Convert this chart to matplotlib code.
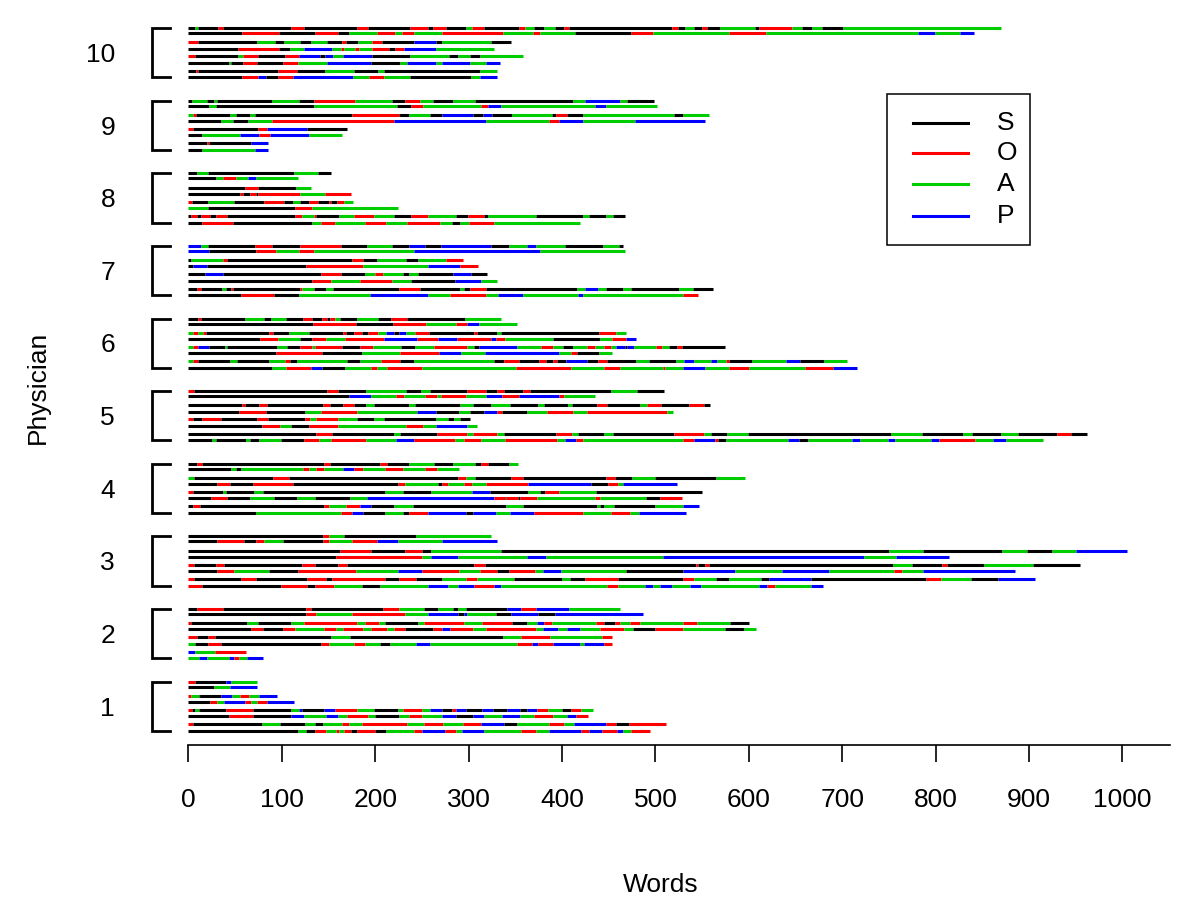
import matplotlib
matplotlib.use("Agg")
import matplotlib.pyplot as plt
from matplotlib.lines import Line2D
from matplotlib.patches import Rectangle

plt.rcParams['font.family'] = ['Liberation Sans', 'DejaVu Sans']

# each note: section letter + word count where that section run ends
physician_1 = [
    "O7 S40 P46 A73",
    "S27 A45 P73",
    "O3 A11 S35 P47 A55 O65 A76 P95",
    "S23 O31 A38 P61 O67 A73 O84 P113",
    "O4 S7 A11 S40 O69 S110 A118 P122 S145 P157 O181 A199 S224 A230 O250 A259 P272 S282 O287 P297 S314 P326 S341 P355 S362 P373 O385 A400 S410 O420 A433",
    "S43 O69 S110 P124 A147 P160 A170 O192 A200 S225 A236 O250 A272 P286 S305 P316 A336 P355 A370 O390 A405 P415 O428",
    "O5 S79 A98 S125 A135 S144 A164 O172 A186 O234 A252 O273 A294 O313 P338 S352 A386 O402 A413 P447 O458 S472 O511",
    "S117 A126 S135 O147 A158 O161 A167 O174 S181 O200 S212 A241 O250 P275 O287 A293 P316 A356 O372 A386 P420 O429 P443 O459 P465 A474 O494",
]
physician_2 = [
    "S9 O37 S126 O131 S208 O226 A252 S267 A283 S289 A297 S341 P356 O372 P408 A462",
    "S126 O137 A175 O232 A257 P289 S295 P298 A329 S345 P374 S392 P487",
    "O3 S63 A74 S110 A124 O181 A189 O204 A210 S246 A252 O295 A314 O346 S362 A373 P381 O389 A436 O445 S457 O462 A473 O483 A530 O545 A580 S600",
    "S67 O80 S101 O114 A145 O158 A165 O187 A195 O213 A220 O232 S262 O272 P280 O305 A319 O372 A380 P396 A405 P419 A441 O466 A476 S500 O530 A575 S595 A608",
    "O9 S21 O28 S153 A173 S337 A356 O387 A443 O454",
    "A7 S21 O35 S142 O151 A177 O189 A205 S216 A244 P259 A352 O368 P374 O390 P419 A424 P445 O454",
    "P7 A28 O62",
    "A11 P20 A43 P49 O54 A63 P80",
]
physician_3 = [
    "S144 O150 A167 S244 A324",
    "S31 O59 S72 O81 A101 S144 O150 A175 O202 P224 A272 P330",
    "S162 O196 S232 O250 S260 A335 S750 A786 S871 A898 S925 A950 P1005",
    "S158 O250 A260 P289 A363 P383 A508 P723 A758 P814",
    "O6 S30 O38 S122 O135 S160 O170 S306 O318 S543 O546 S553 O557 S754 A775 S807 O812 S852 A904 S955",
    "S31 O49 A86 S117 O179 A224 P250 O290 A312 O330 S343 O371 A380 P399 A468 S530 P585 A636 P686 A756 O764 A786 P885",
    "O6 S56 O72 S127 O147 S154 O210 S226 O244 S272 A297 O309 A349 S400 A409 S425 O460 S530 O541 A565 S579 A613 S622 P667 S790 O806 A838 S867 P906",
    "O15 S99 O127 S136 O156 A186 S205 A257 P278 A289 P306 O327 P335 A448 O460 A489 P497 A505 P518 A537 P549 A611 P619 O628 A667 P679",
]
physician_4 = [
    "S9 O15 S145 O152 S205 O213 S236 A263 S283 A307 S313 O321 S343 A353",
    "S46 A51 S56 A123 O129 A137 O145 A165 P177 O187 A210 O230 A253 O266 A290",
    "A6 S91 O108 S289 O297 A307 S345 O358 S447 O457 S475 A500 S565 A596",
    "S31 O45 S69 O112 S224 O232 A267 S272 O278 A295 O304 A319 O364 P431 S449 O460 A465 P523",
    "O5 S37 A40 S70 A80 S210 A230 S260 A304 P323 S364 A376 S382 O397 A436 S550",
    "S24 O41 S66 A92 S116 A135 S173 A191 P327 O339 S340 O353 S355 O373 A435 O441 A490 S505 O528",
    "S5 O12 S145 O151 A169 O184 P196 S220 A240 S340 A358 S437 A441 S445 A456 S500 A530 P547",
    "S72 A163 O175 P187 S210 A230 S236 O256 P297 S305 P329 A344 P370 O423 A452 O473 A482 P533",
]
physician_5 = [
    "O6 S148 O160 S190 A233 S249 A259 S298 O319 S330 O338 S358 O366 S452 A480 S509",
    "S172 P195 A222 O231 A253 O266 A270 O297 A319 P336 O354 P397 O402 A435",
    "S57 O61 S76 O84 S144 O152 S166 O177 S190 A199 S236 A243 S291 A305 S324 A344 S374 A381 S406 A411 S438 O448 S483 A491 O506 S536 O552 S559",
    "S54 O83 S125 A142 O180 A245 P265 S290 A302 S317 P330 O336 S362 A384 O412 A427 O512 A519",
    "O5 S15 O35 S73 O85 S125 O130 A137 O160 A180 S199 A209 S265 A278 S284 A291 S301",
    "S79 O98 A110 S129 O160 A233 O251 A265 P298 A309",
    "S137 O154 S220 A227 S266 O298 A305 O330 A338 S394 O411 A417 S445 A455 S520 O552 A560 S577 A599 S752 A785 S829 A839 S870 A888 S930 O945 S962",
    "S25 A29 S62 A66 S76 A99 S124 O140 A153 O190 A222 P241 O285 A295 O313 A339 O395 A403 P415 O423 A530 O541 P564 O567 S576 A642 P654 S663 A710 P719 A749 P757 A795 P804 O842 A861 P875 A915",
]
physician_6 = [
    "S10 O14 S61 A81 S88 A105 S123 O132 S143 O148 S152 O157 A162 S181 A203 S217 O234 S296 A335",
    "S133 O179 S219 O254 A286 O298 P311 A352",
    "A5 O10 A16 O19 S86 O91 S108 A129 S165 O169 S177 O186 S192 O203 A212 P220 S226 P233 A243 O258 S306 O309 S330 A335 S440 O458 A468",
    "S77 O96 A119 S132 O147 A168 O209 P245 O267 P288 O324 P329 O339 A390 S441 A453 O469 P479",
    "A5 O10 P22 S39 A41 S95 A106 S119 O132 A135 O164 S184 O198 A228 S243 A263 O298 A306 S311 P352 A377 O390 A401 S412 A427 O435 A445 O452 A458 P467 S470 P477 A501 O507 A515 S523 O528 S574",
    "S94 O143 S186 A227 O268 P292 A318 P397 A410 O416 S440 A453",
    "A5 O10 S44 A52 S86 A103 O109 S116 A170 S184 A206 O227 S241 A327 S338 O354 S375 O383 S390 O395 S404 P427 S439 O448 S479 A493 S522 A531 P541 A560 P566 A576 O579 S603 A640 P655 S680 A705",
    "S89 A105 O131 P143 S168 A196 O202 A213 O250 A351 O410 A445 O462 A508 O510 A530 P553 A579 O600 A660 O690 P716",
]
physician_7 = [
    "P14 A21 S71 O90 S120 O163 S191 A218 S236 P253 S270 P324 S343 A362 P372 A403 S444 A461 S465",
    "P22 S72 O94 A118 O134 A242 P376 A467",
    "S3 A37 O41 S175 O187 S202 A233 S246 A276 O294",
    "S5 P20 S126 O187 A257 P291 O310",
    "S18 P37 S142 O163 S189 A200 O208 A230 S236 A246 S283 P303 S320",
    "S132 O153 A184 O218 A238 S285 P313 A330",
    "S9 O13 S36 A40 S46 O48 S119 O122 A134 S147 A155 S226 O248 S291 A295 S301 O319 S416 A425 P439 A447 S465 A474 S525 A540 S562",
    "S56 O92 S118 A194 P256 A280 O319 A332 P358 A417 P423 A530 O546",
]
physician_8 = [
    "S9 A21 S113 A139 S153",
    "S29 A37 O51 A64 P72 A117",
    "S61 O74 S115 A131",
    "S55 O58 S66 O72 S74 O120 A146 O174",
    "O4 S21 A49 S81 O102 S112 A120 S129 O139 S151 O153 S159 O167 A176",
    "A21 S114 O132 A224",
    "S3 O9 S14 O23 S29 O41 S114 O122 A134 O137 S161 A177 O199 A220 S238 O256 A287 S299 O317 S321 A372 S423 A429 S447 A455 S467",
    "S15 O48 S132 A142 O157 A189 O212 A234 O269 A282 S291 A300 O327 A419",
]
physician_9 = [
    "S4 A20 S27 A31 S90 A118 S134 O178 A218 S232 O248 A262 S283 A307 S412 A425 P462 A470 S498",
    "S22 A29 S134 A223 S238 O251 A313 O321 P335 A435 P447 A502",
    "A5 O8 S45 A51 S66 A71 S175 O226 S236 A259 S272 P305 S315 P325 S346 A389 S394 O405 S423 A520 S530 A557",
    "S35 A48 S64 A90 O220 P319 A386 O397 P423 A478 P553",
    "O5 S74 O84 P127 S170",
    "S15 A55 P76 O87 P129 A164",
    "S20 O22 S67 P85",
    "S15 A71 P85",
]
physician_10 = [
    "S7 A10 S32 O37 S110 O124 S180 O192 S237 O257 S262 O276 S297 A304 O316 S354 O360 A370 S381 A393 S402 O408 S518 O524 S532 A541 S550 O555 S569 A607 S611 O646 A657 S668 A678 S701 A870",
    "S57 O97 S136 O160 S172 A202 O221 A229 O241 A271 O337 A369 O376 A414 S474 O497 A579 O618 A781 P799 A826 P841",
    "O10 S73 A93 S102 A120 S131 A148 S164 O169 S182 A197 O207 S242 P265 S272 A324 S345",
    "S53 O97 S109 A124 P154 A163 O167 A178 O183 A197 O215 S221 O231 P265 A327",
    "O7 S53 A58 O75 S103 O118 P141 S146 P155 A166 P197 S237 A279 S289 A301 S312 A358",
    "S43 A46 S58 O73 S101 O117 A148 P195 S227 A234 P265 A271 P301 A319 P334",
    "S8 O10 S96 O116 S146 A177 S203 A209 S312 A330",
    "S57 O75 P83 S96 O112 P176 A193 O209 A237 S303 A312 P330",
]

physicians = [physician_1, physician_2, physician_3, physician_4, physician_5,
              physician_6, physician_7, physician_8, physician_9, physician_10]
group_labels = [str(i) for i in range(1, 11)]
sections = ["S", "O", "A", "P"]
section_colors = {"S": "#000000", "O": "#FF0000", "A": "#00CD00", "P": "#0000FF"}
x_ticks = list(range(0, 1001, 100))

W, H = 1200, 914
GROUP_PX = 72.6
# vertical position of the 8 notes inside a block, pixels from block centre
row_px = [-24.4, -19.5, -10.2, -4.0, 3.8, 10.1, 18.2, 24.8]


def parse(note):
    segs = []
    start = 0.0
    for tok in note.split():
        end = float(tok[1:])
        segs.append((tok[0], start, end))
        start = end
    return segs


fig = plt.figure(figsize=(W / 100, H / 100), dpi=100)
ax = fig.add_axes([152 / W, 1 - 745 / H, 1018 / W, 716 / H])
ax.set_xlim(-39, 1051)
ax.set_ylim(1 - 39 / GROUP_PX, 1 + 677 / GROUP_PX)

ys, x0s, x1s, cols = [], [], [], []
for p, notes in enumerate(physicians, start=1):
    for off, note in zip(row_px, notes):
        y = p - off / GROUP_PX
        for sec, a, b in parse(note):
            ys.append(y)
            x0s.append(a)
            x1s.append(b)
            cols.append(section_colors[sec])
ax.hlines(ys, x0s, x1s, colors=cols, linewidth=2.2, capstyle="butt",
          clip_on=False)

# brackets marking each physician's block
for p in range(1, 11):
    top = p - row_px[0] / GROUP_PX
    bot = p - row_px[-1] / GROUP_PX
    ax.plot([-20, -39, -39, -20], [top, top, bot, bot], color="black",
            lw=2.0, clip_on=False, solid_joinstyle="miter")

for side in ["left", "top", "right"]:
    ax.spines[side].set_visible(False)
ax.spines["bottom"].set_bounds(0, 1051)
ax.spines["bottom"].set_linewidth(1.2)

ax.set_xticks(x_ticks)
ax.tick_params(axis="x", direction="out", length=12.2, width=1.2,
               labelsize=19, pad=18.5)
ax.set_yticks(range(1, 11), group_labels)
ax.tick_params(axis="y", length=0, pad=26.6, labelsize=19)

ax.set_xlabel("Words", fontsize=19, labelpad=44)
ax.set_ylabel("Physician", fontsize=19, labelpad=26)


# legend box, placed in figure pixels
def fx(x):
    return x / W


def fy(y):
    return 1 - y / H


fig.add_artist(Rectangle((fx(887), fy(245)), 143 / W, 151 / H,
                         transform=fig.transFigure, fill=False,
                         edgecolor="black", lw=1.1))
for sec, yp in zip(sections, [123, 153, 184, 216]):
    fig.add_artist(Line2D([fx(913), fx(968)], [fy(yp), fy(yp)],
                          transform=fig.transFigure,
                          color=section_colors[sec], lw=2.2))
    fig.text(fx(997), fy(yp), sec, fontsize=19, va="center", ha="left")

fig.savefig("out.png", dpi=100)
